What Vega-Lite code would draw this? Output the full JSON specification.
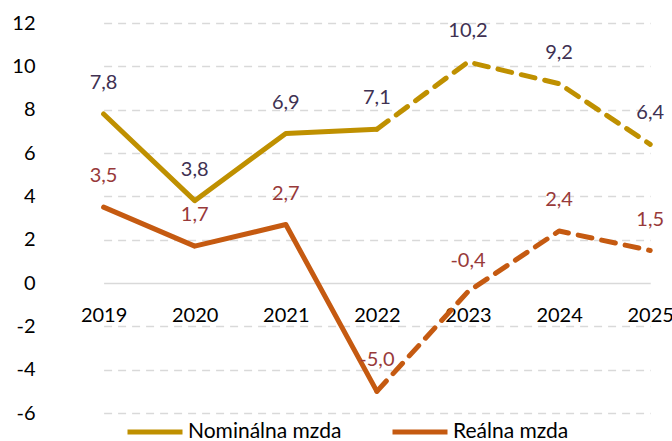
{
  "$schema": "https://vega.github.io/schema/vega-lite/v6.json",
  "autosize": {"type": "none"},
  "padding": {"left": 58, "top": 23, "right": 0, "bottom": 28},
  "width": 614,
  "height": 390,
  "background": "white",
  "config": {
    "locale": {"number": {"decimal": ",", "thousands": " ", "grouping": [3], "currency": ["", ""], "minus": "-"}},
    "view": {"stroke": null},
    "font": "Lato",
    "text": {"font": "Lato"}
  },
  "data": {
    "values": [
      {"year": 2019, "series": "Nominálna mzda", "value": 7.8},
      {"year": 2020, "series": "Nominálna mzda", "value": 3.8},
      {"year": 2021, "series": "Nominálna mzda", "value": 6.9},
      {"year": 2022, "series": "Nominálna mzda", "value": 7.1},
      {"year": 2023, "series": "Nominálna mzda", "value": 10.2},
      {"year": 2024, "series": "Nominálna mzda", "value": 9.2},
      {"year": 2025, "series": "Nominálna mzda", "value": 6.4},
      {"year": 2019, "series": "Reálna mzda", "value": 3.5},
      {"year": 2020, "series": "Reálna mzda", "value": 1.7},
      {"year": 2021, "series": "Reálna mzda", "value": 2.7},
      {"year": 2022, "series": "Reálna mzda", "value": -5.0},
      {"year": 2023, "series": "Reálna mzda", "value": -0.4},
      {"year": 2024, "series": "Reálna mzda", "value": 2.4},
      {"year": 2025, "series": "Reálna mzda", "value": 1.5}
    ]
  },
  "encoding": {
    "x": {
      "field": "year", "type": "ordinal",
      "scale": {"type": "point", "range": [45.6, 592.2], "padding": 0},
      "axis": {
        "title": null, "labelAngle": 0, "domain": false, "ticks": false, "grid": false,
        "offset": -130, "labelPadding": 22, "labelFontSize": 20, "labelFont": "Lato", "labelColor": "#000000"
      }
    },
    "y": {
      "field": "value", "type": "quantitative",
      "scale": {"domain": [-6, 12], "nice": false, "zero": false},
      "axis": {
        "title": null, "values": [-6, -4, -2, 0, 2, 4, 6, 8, 10, 12], "format": "d",
        "domain": false, "ticks": false, "labelPadding": 23, "labelFontSize": 20, "labelFont": "Lato", "labelColor": "#000000",
        "grid": true, "gridColor": "#D9D9D9", "gridWidth": 1.5,
        "gridDash": {"condition": {"test": "datum.value === 0", "value": []}, "value": [8, 6]}
      }
    }
  },
  "layer": [
    {
      "transform": [{"filter": "datum.year <= 2022"}],
      "mark": {"type": "line", "strokeWidth": 5, "strokeCap": "round", "strokeJoin": "round"},
      "encoding": {
        "color": {
          "field": "series", "type": "nominal",
          "scale": {"domain": ["Nominálna mzda", "Reálna mzda"], "range": ["#BF9000", "#C55A11"]},
          "legend": {
            "title": null, "orient": "none", "direction": "horizontal",
            "legendX": 67, "legendY": 379,
            "symbolType": "stroke", "symbolSize": 3025, "symbolStrokeWidth": 5,
            "labelFontSize": 21, "labelFont": "Lato", "labelColor": "#000000", "labelOffset": 3,
            "columnPadding": 40
          }
        }
      }
    },
    {
      "transform": [{"filter": "datum.year >= 2022"}],
      "mark": {"type": "line", "strokeWidth": 5, "strokeCap": "round", "strokeJoin": "round", "strokeDash": [14, 10]},
      "encoding": {
        "color": {"field": "series", "type": "nominal", "legend": null}
      }
    },
    {
      "mark": {"type": "text", "dy": -31, "fontSize": 20, "font": "Lato", "baseline": "middle"},
      "encoding": {
        "text": {"field": "value", "type": "quantitative", "format": ".1f"},
        "color": {
          "condition": {"test": "datum.series === 'Reálna mzda'", "value": "#983A3A"},
          "value": "#403152"
        }
      }
    }
  ]
}
